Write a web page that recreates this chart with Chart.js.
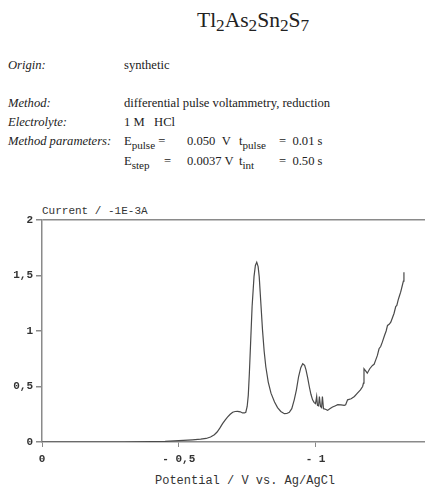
<!DOCTYPE html>
<html>
<head>
<meta charset="utf-8">
<script src="https://cdn.jsdelivr.net/npm/chart.js@4/dist/chart.umd.min.js"></script>
<style>
  body { margin: 0; background: #fff; width: 425px; height: 488px; position: relative; overflow: hidden; }
  .t { position: absolute; font-family: "Liberation Serif", "Times New Roman", serif; font-size: 12.6px; color: #222; line-height: 14px; white-space: nowrap; }
  .i { font-style: italic; }
  .m { position: absolute; font-family: "Liberation Mono", "DejaVu Sans Mono", monospace; font-size: 11px; color: #333; line-height: 14px; white-space: nowrap; }
  sub { font-size: 88%; vertical-align: -4px; line-height: 0; }
  .big sub { font-size: 80%; }
  #chart { position: absolute; left: 0; top: 195px; }
</style>
</head>
<body>
<div class="t big" style="left:197px;top:7px;font-size:21.5px;line-height:26px">Tl<sub>2</sub>As<sub>2</sub>Sn<sub>2</sub>S<sub>7</sub></div>

<div class="t i" style="left:8px;top:58px">Origin:</div>
<div class="t" style="left:124px;top:58px">synthetic</div>

<div class="t i" style="left:8px;top:96px">Method:</div>
<div class="t" style="left:124px;top:96px">differential pulse voltammetry, reduction</div>
<div class="t i" style="left:8px;top:115px">Electrolyte:</div>
<div class="t" style="left:124px;top:115px">1 M &nbsp; HCl</div>
<div class="t i" style="left:8px;top:134px">Method parameters:</div>
<div class="t" style="left:124px;top:134px">E<sub>pulse</sub> =</div>
<div class="t" style="left:187px;top:134px">0.050 &nbsp;V</div>
<div class="t" style="left:239px;top:134px">t<sub>pulse</sub></div>
<div class="t" style="left:279px;top:134px">= &nbsp;0.01 s</div>
<div class="t" style="left:124px;top:154px">E<sub>step</sub></div>
<div class="t" style="left:164px;top:154px">=</div>
<div class="t" style="left:187px;top:154px">0.0037 V</div>
<div class="t" style="left:239px;top:154px">t<sub>int</sub></div>
<div class="t" style="left:279px;top:154px">= &nbsp;0.50 s</div>

<div class="m" style="left:42px;top:204px">Current / -1E-3A</div>
<div class="m" style="left:155px;top:474px;font-size:12px">Potential / V vs. Ag/AgCl</div>

<canvas id="chart" width="425" height="293"></canvas>

<script>
// Potential (V, plotted as magnitude) and current (-1E-3 A)
const potential = [
  0, 0.1, 0.2, 0.3, 0.4, 0.45, 0.5, 0.55, 0.58, 0.6, 0.616, 0.63, 0.64, 0.65, 0.66,
  0.67, 0.678, 0.688, 0.697, 0.706, 0.715, 0.725, 0.733, 0.74, 0.745, 0.75, 0.754,
  0.758, 0.763, 0.768, 0.775, 0.78, 0.785, 0.79, 0.794, 0.8, 0.806, 0.812, 0.818,
  0.827, 0.837, 0.85, 0.861, 0.873, 0.886, 0.895, 0.904, 0.913, 0.922, 0.93, 0.938,
  0.946, 0.953, 0.96, 0.965, 0.971, 0.977, 0.983, 0.989, 0.995, 1.0, 1.004, 1.007,
  1.011, 1.014, 1.018, 1.022, 1.025, 1.029, 1.036, 1.044, 1.052, 1.062, 1.071, 1.081,
  1.093, 1.105, 1.11, 1.117, 1.13, 1.142, 1.153, 1.164, 1.172, 1.175, 1.177, 1.183,
  1.189, 1.198, 1.208, 1.214, 1.22, 1.226, 1.232, 1.238, 1.244, 1.252, 1.258, 1.263,
  1.269, 1.275, 1.281, 1.287, 1.293, 1.297, 1.302, 1.307, 1.311, 1.314, 1.317, 1.321, 1.323
];
const current = [
  0, 0, 0, 0, 0.003, 0.006, 0.012, 0.02, 0.026, 0.032, 0.045, 0.065, 0.09, 0.125, 0.165,
  0.2, 0.225, 0.25, 0.268, 0.275, 0.276, 0.272, 0.262, 0.262, 0.268, 0.32, 0.42,
  0.62, 0.92, 1.22, 1.49, 1.59, 1.62, 1.58, 1.49, 1.25, 1.01, 0.82, 0.68,
  0.54, 0.44, 0.36, 0.31, 0.275, 0.255, 0.257, 0.267, 0.3, 0.38, 0.47, 0.59,
  0.67, 0.705, 0.69, 0.65, 0.58, 0.5, 0.43, 0.38, 0.355, 0.345, 0.41, 0.33,
  0.325, 0.41, 0.32, 0.31, 0.41, 0.3, 0.295, 0.285, 0.3, 0.315, 0.325, 0.336,
  0.335, 0.33, 0.335, 0.38, 0.39, 0.41, 0.44, 0.47, 0.5, 0.53, 0.66, 0.64,
  0.62, 0.66, 0.69, 0.7, 0.74, 0.78, 0.84, 0.86, 0.9, 0.96, 1.0, 1.05,
  1.06, 1.08, 1.12, 1.16, 1.22, 1.23, 1.28, 1.32, 1.35, 1.38, 1.41, 1.45, 1.53
];
const xTicks = [0, 0.5, 1];
const xTickLabels = ['0', '- 0,5', '- 1'];
const yTicks = [0, 0.5, 1, 1.5, 2];
const yTickLabels = ['0', '0,5', '1', '1,5', '2'];

const axisColor = '#8a8a8a';
const tickFont = { family: '"Liberation Mono", monospace', size: 11, weight: 'bold' };

const ctx = document.getElementById('chart').getContext('2d');
const myChart = new Chart(ctx, {
  type: 'line',
  data: {
    datasets: [{
      data: potential.map((v, i) => ({ x: v, y: current[i] })),
      borderColor: '#4a4a4a',
      borderWidth: 1.2,
      pointRadius: 0,
      tension: 0,
      fill: false
    }]
  },
  options: {
    responsive: false,
    animation: false,
    layout: { padding: { top: 25, left: 0, right: 0, bottom: 0 } },
    plugins: { legend: { display: false }, tooltip: { enabled: false } },
    scales: {
      x: {
        type: 'linear',
        min: 0,
        max: 1.4,
        afterBuildTicks: function(axis) {
          axis.ticks = xTicks.map(v => ({ value: v }));
        },
        afterFit: function(axis) { axis.height = 46; },
        border: { color: axisColor, width: 1.5 },
        grid: { drawOnChartArea: false, tickLength: 5, color: axisColor },
        ticks: {
          color: '#333',
          font: tickFont,
          maxRotation: 0,
          padding: 6,
          callback: function(value) {
            const k = xTicks.indexOf(value);
            return k >= 0 ? xTickLabels[k] : '';
          }
        }
      },
      y: {
        min: 0,
        max: 2,
        afterBuildTicks: function(axis) {
          axis.ticks = yTicks.map(v => ({ value: v }));
        },
        afterFit: function(axis) { axis.width = 42; },
        border: { color: axisColor, width: 1.5 },
        grid: {
          tickLength: 6,
          tickColor: axisColor,
          lineWidth: 1.5,
          color: function(c) { return c.tick && c.tick.value === 2 ? axisColor : 'rgba(0,0,0,0)'; }
        },
        ticks: {
          color: '#333',
          font: tickFont,
          padding: 3,
          callback: function(value) {
            const k = yTicks.indexOf(value);
            return k >= 0 ? yTickLabels[k] : '';
          }
        }
      }
    }
  }
});
</script>
</body>
</html>
